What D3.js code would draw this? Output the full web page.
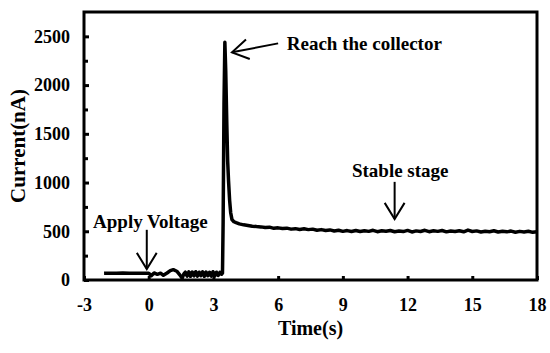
<!DOCTYPE html>
<html>
<head>
<meta charset="utf-8">
<script src="https://cdn.jsdelivr.net/npm/d3@7"></script>
<style>
  body { margin: 0; background: #fff; }
  svg text { font-family: "Liberation Serif", "Times New Roman", serif; font-weight: bold; fill: #000; }
</style>
</head>
<body>
<svg id="chart" width="550" height="353"></svg>
<script>
// current trace, [time (s), current (nA)]
var baseline = [
  [-2.07, 68], [-1.8, 70], [-1.5, 69], [-1.2, 71], [-0.9, 68], [-0.6, 70], [-0.3, 69], [0, 70],
  [0.12, 45], [0.25, 72], [0.4, 58], [0.55, 70], [0.68, 48], [0.85, 72], [1.0, 96], [1.14, 106],
  [1.3, 90], [1.45, 50], [1.55, 18], [1.63, 62], [1.7, 80], [1.78, 40], [1.86, 84], [1.94, 38],
  [2.02, 82], [2.1, 42], [2.18, 85], [2.26, 40], [2.34, 80], [2.42, 45], [2.5, 84], [2.58, 38],
  [2.66, 82], [2.74, 44], [2.82, 80], [2.9, 40], [2.98, 85], [3.06, 42], [3.14, 80], [3.22, 46],
  [3.3, 78], [3.38, 60]
];
var spike = [
  [3.42, 70], [3.45, 600], [3.49, 1800], [3.53, 2440], [3.57, 2150], [3.62, 1600], [3.66, 1220],
  [3.7, 1020], [3.75, 820], [3.8, 690], [3.86, 620], [3.95, 598], [4.05, 588], [4.2, 576]
];
var stable = [
  [4.4, 566], [4.6, 560], [4.8, 552], [5.0, 548], [5.2, 545], [5.4, 538], [5.6, 542], [5.8, 530],
  [6.0, 535], [6.2, 528], [6.4, 532], [6.6, 522], [6.8, 527], [7.0, 519], [7.2, 525], [7.4, 517],
  [7.6, 522], [7.8, 510], [8.0, 517], [8.2, 508], [8.4, 514], [8.6, 503], [8.8, 511], [9.0, 499],
  [9.2, 507], [9.4, 498], [9.6, 508], [9.8, 497], [10.0, 506], [10.2, 499], [10.4, 510], [10.6, 496],
  [10.8, 505], [11.0, 500], [11.2, 508], [11.4, 495], [11.6, 503], [11.8, 497], [12.0, 509], [12.2, 493],
  [12.4, 504], [12.6, 498], [12.8, 510], [13.0, 496], [13.2, 505], [13.4, 499], [13.6, 508], [13.8, 494],
  [14.0, 503], [14.2, 497], [14.4, 506], [14.6, 495], [14.8, 512], [15.0, 498], [15.2, 504], [15.4, 493],
  [15.6, 501], [15.8, 496], [16.0, 505], [16.2, 492], [16.4, 500], [16.6, 494], [16.8, 502], [17.0, 490],
  [17.2, 499], [17.4, 493], [17.6, 500], [17.8, 489], [18.0, 495]
];

var xTicks = [-3, 0, 3, 6, 9, 12, 15, 18];
var yTicks = [0, 500, 1000, 1500, 2000, 2500];
var yMinorTicks = [250, 750, 1250, 1750, 2250];

// annotations: text anchor point and arrow (from -> to) in data units
var notes = [
  { label: "Apply Voltage", tx: -2.58, ty: 533, anchor: "start", from: [-0.09, 515], to: [-0.09, 112] },
  { label: "Reach the collector", tx: 6.4, ty: 2362, anchor: "start", from: [6.0, 2428], to: [3.86, 2336] },
  { label: "Stable stage", tx: 11.66, ty: 1058, anchor: "middle", from: [11.4, 1007], to: [11.4, 625] }
];

var svg = d3.select("#chart"),
    margin = {top: 12, right: 13, bottom: 73, left: 84},
    width = +svg.attr("width") - margin.left - margin.right,
    height = +svg.attr("height") - margin.top - margin.bottom,
    g = svg.append("g").attr("transform", "translate(" + margin.left + "," + margin.top + ")");

var x = d3.scaleLinear().domain([-3, 18]).range([0, width]);
var y = d3.scaleLinear().domain([0, 2750]).range([height, 0]);
var plain = function(d) { return String(d); };  // "-3" with a hyphen, no thousands comma

var trace = baseline.concat(spike, stable);

g.append("path")
    .datum(trace)
    .attr("fill", "none")
    .attr("stroke", "#000")
    .attr("stroke-width", 3.5)
    .attr("stroke-linejoin", "round")
    .attr("d", d3.line().x(function(d) { return x(d[0]); }).y(function(d) { return y(d[1]); }));

// axes with inward ticks
g.append("g")
    .attr("transform", "translate(0," + height + ")")
    .call(d3.axisBottom(x).tickValues(xTicks).tickFormat(plain).tickSizeInner(-4).tickSizeOuter(0).tickPadding(18));
g.append("g")
    .call(d3.axisLeft(y).tickValues(yTicks).tickFormat(plain).tickSizeInner(-5).tickSizeOuter(0).tickPadding(14));
g.append("g")
    .call(d3.axisLeft(y).tickValues(yMinorTicks).tickSizeInner(-4).tickSizeOuter(0).tickFormat(""));

g.selectAll(".domain").remove();
g.selectAll(".tick line").attr("stroke", "#000").attr("stroke-width", 3);
g.selectAll(".tick text")
    .attr("font-size", 18)
    .attr("font-family", "Liberation Serif")
    .attr("font-weight", "bold");

g.append("rect")
    .attr("width", width)
    .attr("height", height)
    .attr("fill", "none")
    .attr("stroke", "#000")
    .attr("stroke-width", 3);

// axis titles
svg.append("text")
    .attr("x", margin.left + width / 2)
    .attr("y", 335)
    .attr("text-anchor", "middle")
    .attr("font-size", 20)
    .text("Time(s)");

svg.append("text")
    .attr("transform", "translate(25," + (margin.top + height / 2) + ") rotate(-90)")
    .attr("text-anchor", "middle")
    .attr("font-size", 21)
    .text("Current(nA)");

// annotations
var note = g.selectAll(".note").data(notes).enter().append("g").attr("class", "note");

note.append("text")
    .attr("x", function(d) { return x(d.tx); })
    .attr("y", function(d) { return y(d.ty); })
    .attr("text-anchor", function(d) { return d.anchor; })
    .attr("font-size", 19)
    .text(function(d) { return d.label; });

note.append("line")
    .attr("x1", function(d) { return x(d.from[0]); })
    .attr("y1", function(d) { return y(d.from[1]); })
    .attr("x2", function(d) { return x(d.to[0]); })
    .attr("y2", function(d) { return y(d.to[1]); })
    .attr("stroke", "#000")
    .attr("stroke-width", 2);

// open arrow heads at the "to" end
note.append("path")
    .attr("fill", "none")
    .attr("stroke", "#000")
    .attr("stroke-width", 2)
    .attr("d", function(d) {
      var x1 = x(d.from[0]), y1 = y(d.from[1]), x2 = x(d.to[0]), y2 = y(d.to[1]);
      var a = Math.atan2(y2 - y1, x2 - x1), len = 19, spread = 0.55;
      var p1 = [x2 - len * Math.cos(a - spread), y2 - len * Math.sin(a - spread)];
      var p2 = [x2 - len * Math.cos(a + spread), y2 - len * Math.sin(a + spread)];
      return "M" + p1 + "L" + [x2, y2] + "L" + p2;
    });
</script>
</body>
</html>
